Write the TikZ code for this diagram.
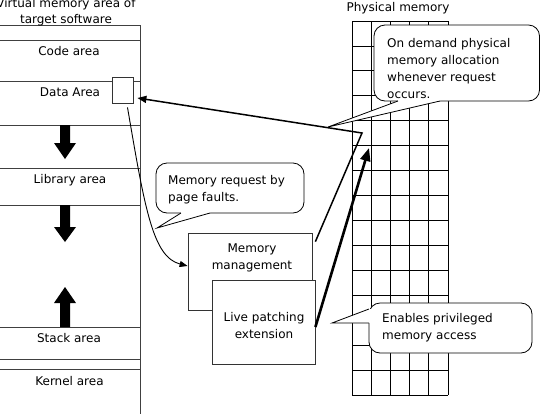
\documentclass[tikz,border=0pt]{standalone}
\usepackage{fontspec}
\setmainfont{DejaVu Sans}
\usetikzlibrary{arrows.meta,calc}
\begin{document}
\begin{tikzpicture}[x=1pt,y=-1pt,
  font=\fontsize{12}{17}\selectfont,
  vline/.style={line width=0.8pt, draw=black!75},
  gridline/.style={line width=0.8pt, draw=black},
  boxline/.style={line width=0.8pt, draw=black!80},
  lbl/.style={inner sep=0pt, text height=8.5pt, text depth=2.5pt},
  txt/.style={inner sep=0pt, align=left, anchor=north west},
  cbox/.style={line width=0.8pt, draw=black, fill=white, rounded corners=11pt},
  ctail/.style={line width=0.8pt, draw=black},
  blockarrow/.style={fill=black},
  reqarrow/.style={line width=0.9pt, -{Triangle[length=8pt,width=6pt]}},
  allocarrow/.style={line width=1.5pt, -{Triangle[length=9pt,width=7pt]}},
  patcharrow/.style={line width=2.6pt, -{Triangle[length=13pt,width=10pt]}}
]
\useasboundingbox (0,0) rectangle (541,413);
\fill[white] (0,0) rectangle (541,413);

% ---------- virtual memory column ----------
\foreach \yy in {25,40,81,125,168,205,327,359,369}
  \draw[vline] (-5,\yy) -- (140,\yy);
\draw[vline] (140,25) -- (140,420);

\node[lbl] (code) at (69,52) {Code area};
\node[lbl] (data) at (70,93) {Data Area};
\node[lbl] (lib) at (70,180) {Library area};
\node[lbl] (stack) at (69,339) {Stack area};
\node[lbl] (kernel) at (69.5,382) {Kernel area};

\node[inner sep=0pt, align=center, anchor=north, font=\fontsize{12}{16}\selectfont] (vtitle) at (66,-1.5)
  {Virtual memory area of\\target software};

% block arrows
\fill[blockarrow] (60,125) -- (70,125) -- (70,143) -- (76,143) -- (65,159) -- (54,143) -- (60,143) -- cycle;
\fill[blockarrow] (60,205) -- (70,205) -- (70,227) -- (76,227) -- (65,242) -- (54,227) -- (60,227) -- cycle;
\fill[blockarrow] (60,327) -- (70,327) -- (70,303) -- (76,303) -- (65,287) -- (54,303) -- (60,303) -- cycle;

% data square
\node[draw=black!80, line width=0.8pt, fill=white, minimum width=21pt, minimum height=26pt, inner sep=0pt] (ds) at (122.5,90) {};

% ---------- physical memory grid ----------
\node[lbl] (ptitle) at (398,8) {Physical memory};
\foreach \i in {0,...,5}
  \draw[gridline] ({352+19.2*\i},21) -- ({352+19.2*\i},395);
\foreach \j in {0,...,15}
  \draw[gridline] (352,{21+24.93*\j}) -- (448,{21+24.93*\j});
\coordinate (phys) at (369,148);
\coordinate (bend) at (362,133);

% ---------- callout 1 ----------
\filldraw[cbox] (374,25) rectangle (539.5,101);
\fill[white] (398,97) -- (398,101) -- (328,127) -- (440,101) -- (440,97) -- cycle;
\draw[ctail] (398,101) -- (328,127) -- (440,101);
\node[txt] (c1) at (387,38.5) {On demand physical\\memory allocation\\whenever request\\occurs.};

% ---------- callout 2 ----------
\filldraw[cbox] (156,163) rectangle (304,213);
\fill[white] (181,209) -- (181,213) -- (157,228) -- (210,213) -- (210,209) -- cycle;
\draw[ctail] (181,213) -- (157,228) -- (210,213);
\node[txt] (c2) at (168,175.5) {Memory request by\\page faults.};

% ---------- memory management / live patching ----------
\node[boxline, fill=white, minimum width=124pt, minimum height=77pt, inner sep=0pt] (mm) at (250,271.5) {};
\node[inner sep=0pt, align=center, anchor=north] (mmtext) at (252,243.5) {Memory\\management};
\node[boxline, fill=white, minimum width=103pt, minimum height=84pt, inner sep=0pt] (lp) at (263.5,322) {};
\node[inner sep=0pt, align=center, anchor=north] (lptext) at (264,312) {Live patching\\extension};

% ---------- callout 3 ----------
\filldraw[cbox] (369,303) rectangle (532,353);
\fill[white] (373,309) -- (369,309) -- (332,323) -- (369,323) -- (373,323) -- cycle;
\draw[ctail] (369,309) -- (332,323) -- (369,323);
\node[txt] (c3) at (382,313.5) {Enables privileged\\memory access};

% ---------- connectors ----------
\draw[reqarrow] ([xshift=5pt,yshift=-4pt]ds.south) .. controls (145,210) and (153,257) .. ([yshift=5.5pt]mm.west);
\draw[allocarrow] ([xshift=3pt,yshift=-9pt]mm.north east) -- (bend) -- ([xshift=4pt,yshift=-8pt]ds.east);
\draw[patcharrow] ([yshift=-5pt]lp.east) -- (phys);

\end{tikzpicture}
\end{document}
